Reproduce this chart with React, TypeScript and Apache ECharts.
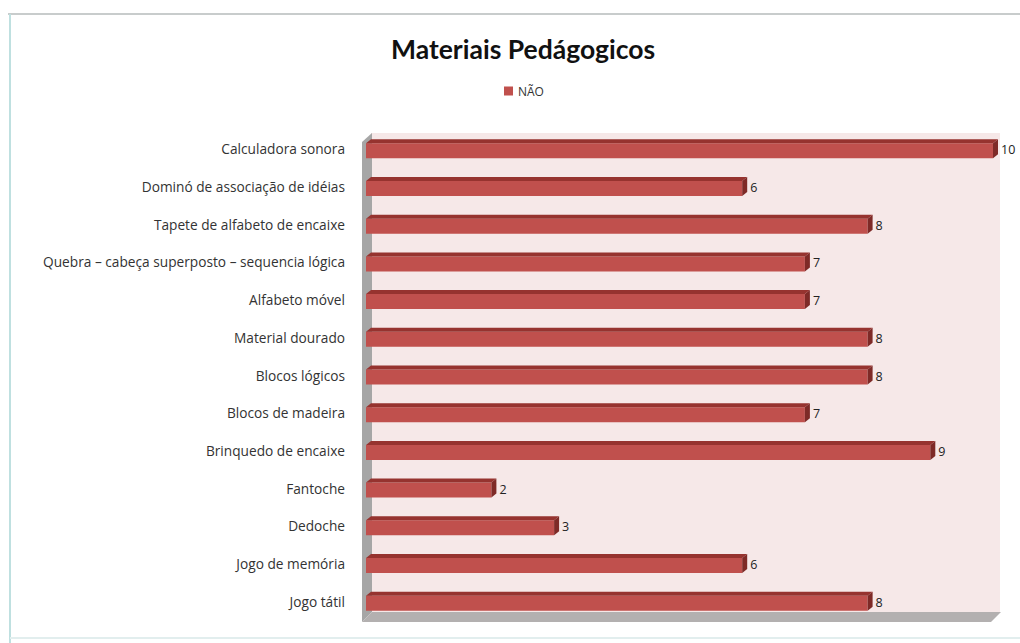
import React, { useEffect, useRef } from "react";
import * as echarts from "echarts";

const categories = [
  "Calculadora sonora",
  "Dominó de associação de idéias",
  "Tapete de alfabeto de encaixe",
  "Quebra – cabeça superposto – sequencia lógica",
  "Alfabeto móvel",
  "Material dourado",
  "Blocos lógicos",
  "Blocos de madeira",
  "Brinquedo de encaixe",
  "Fantoche",
  "Dedoche",
  "Jogo de memória",
  "Jogo tátil",
];
const naoValues = [10, 6, 8, 7, 7, 8, 8, 7, 9, 2, 3, 6, 8];
const seriesName = "NÃO";
const titleText = "Materiais Pedágogicos";

export default function App() {
  const ref = useRef<HTMLDivElement>(null);
  useEffect(() => {
    if (!ref.current) return;
    const chart = echarts.init(ref.current, null, { renderer: "svg" });
    const font = "Lato, 'Open Sans', sans-serif";
    const font2 = "'Open Sans', Lato, sans-serif";
    const dx = 5;
    const dy = 4;
    const h = 15;
    chart.setOption({
      animation: false,
      backgroundColor: "#ffffff",
      title: {
        text: titleText,
        left: 386,
        top: 30,
        textStyle: { fontFamily: font, fontSize: 26.5, fontWeight: "bold", color: "#111" },
      },
      legend: {
        data: [seriesName],
        top: 80,
        left: 499,
        itemWidth: 9,
        itemHeight: 9,
        itemGap: 3,
        icon: "rect",
        textStyle: { fontFamily: font2, fontSize: 12, color: "#333" },
      },
      grid: {
        left: 366,
        right: 27,
        top: 130,
        bottom: 23,
        show: false,
      },
      graphic: [
        { type: "line", shape: { x1: 8, y1: 14, x2: 1020, y2: 14 }, style: { stroke: "#c8cccc", lineWidth: 2 }, silent: true },
        { type: "line", shape: { x1: 10, y1: 14, x2: 10, y2: 643 }, style: { stroke: "#bfe0e0", lineWidth: 2 }, silent: true },
        { type: "line", shape: { x1: 10, y1: 638, x2: 1020, y2: 638 }, style: { stroke: "#e2eeee", lineWidth: 2 }, silent: true },
        // back wall
        { type: "rect", z: -10, shape: { x: 371, y: 133, width: 629, height: 479 }, style: { fill: "#f6e8e8" }, silent: true },
        // left wall
        { type: "polygon", z: -9, shape: { points: [[362, 142], [372, 133], [372, 612], [362, 622]] }, style: { fill: "#a6a6a6" }, silent: true },
        // floor
        { type: "polygon", z: -9, shape: { points: [[362, 622], [372, 612], [1001, 612], [991, 622]] }, style: { fill: "#b3b0b0" }, silent: true },
      ],
      xAxis: { type: "value", min: 0, max: 10, show: false },
      yAxis: {
        type: "category",
        data: categories,
        inverse: true,
        axisLine: { show: false },
        axisTick: { show: false },
        axisLabel: { fontFamily: font2, fontSize: 13.7, color: "#333", margin: 21, padding: [6, 0, 0, 0] },
      },
      series: [
        {
          name: seriesName,
          type: "custom",
          itemStyle: { color: "#c0504d" },
          encode: { x: 0, y: 1 },
          data: naoValues.map((v, i) => [v, i]),
          renderItem: (params: any, api: any) => {
            const v = api.value(0);
            const idx = api.value(1);
            const s = api.coord([0, idx]);
            const e = api.coord([v, idx]);
            const x0 = s[0];
            const x1 = e[0];
            const yTop = s[1] - h / 2 + 2;
            const yBot = yTop + h;
            return {
              type: "group",
              children: [
                { type: "rect", shape: { x: x0, y: yTop, width: x1 - x0, height: h }, style: { fill: "#c0504d" } },
                { type: "polygon", shape: { points: [[x0, yTop], [x1, yTop], [x1 + dx, yTop - dy], [x0 + dx, yTop - dy]] }, style: { fill: "#96332f" } },
                { type: "polygon", shape: { points: [[x1, yTop], [x1 + dx, yTop - dy], [x1 + dx, yBot - dy], [x1, yBot]] }, style: { fill: "#7e2a27" } },
                { type: "text", style: { x: x1 + dx + 3, y: (yTop + yBot) / 2 - 1, text: String(v), fill: "#222", font: `12.5px ${font2}`, verticalAlign: "middle", align: "left" } },
              ],
            };
          },
        },
      ],
    });
    return () => chart.dispose();
  }, []);
  return <div ref={ref} style={{ position: "fixed", left: 0, top: 0, width: 1020, height: 643 }} />;
}
